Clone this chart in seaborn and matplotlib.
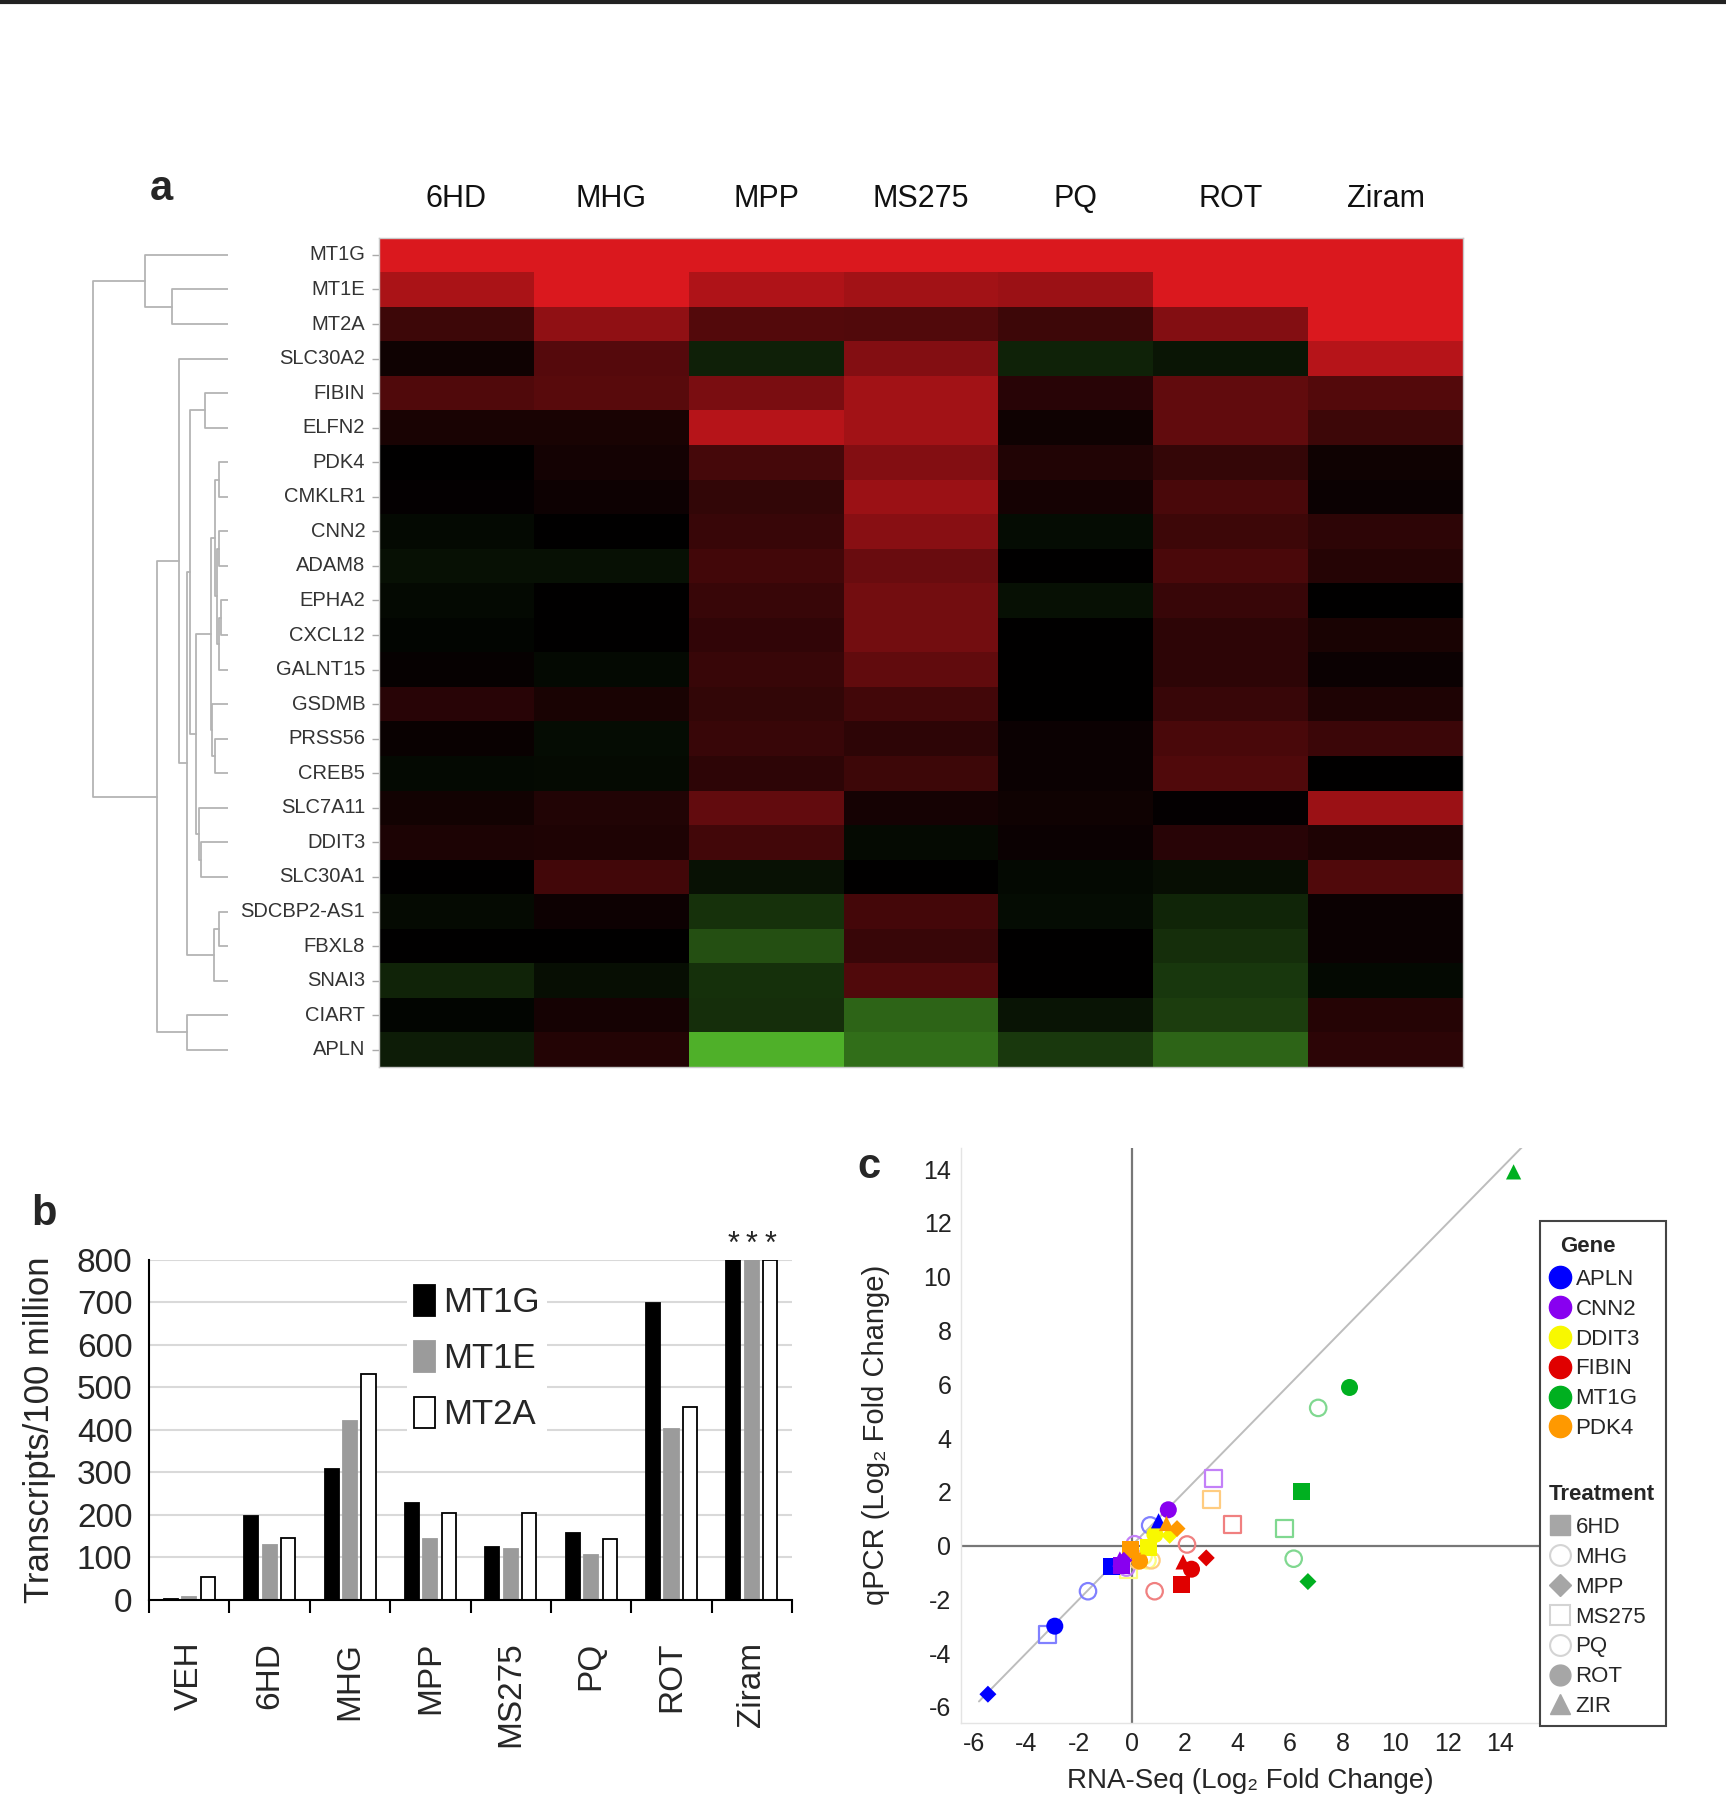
import numpy as np
import pandas as pd
import matplotlib
matplotlib.use('Agg')
import matplotlib.pyplot as plt
from matplotlib.colors import LinearSegmentedColormap
from matplotlib.lines import Line2D
from matplotlib.patches import Patch
from matplotlib.transforms import IdentityTransform
import seaborn as sns

sns.set_theme(style='white')
plt.rcParams['font.family'] = ['Liberation Sans', 'DejaVu Sans']
plt.rcParams['axes.unicode_minus'] = False

# ---------------- data: panel a (heatmap, signed colour level -1..1) ----------------
hm_genes = ['MT1G', 'MT1E', 'MT2A', 'SLC30A2', 'FIBIN', 'ELFN2', 'PDK4', 'CMKLR1',
            'CNN2', 'ADAM8', 'EPHA2', 'CXCL12', 'GALNT15', 'GSDMB', 'PRSS56', 'CREB5',
            'SLC7A11', 'DDIT3', 'SLC30A1', 'SDCBP2-AS1', 'FBXL8', 'SNAI3', 'CIART', 'APLN']
hm_treat = ['6HD', 'MHG', 'MPP', 'MS275', 'PQ', 'ROT', 'Ziram']
c_6hd = [1, .78, .28, .07, .36, .11, 0, .02, -.05, -.09, -.05, -.03, .03, .18, .04, -.05,
         .08, .13, 0, -.06, 0, -.20, -.03, -.16]
c_mhg = [1, 1, .66, .39, .40, .11, .09, .06, 0, -.09, 0, 0, -.05, .11, -.07, -.06,
         .15, .14, .30, .06, 0, -.08, .10, .16]
c_mpp = [1, .80, .38, -.18, .56, .83, .32, .23, .25, .30, .25, .22, .25, .23, .25, .21,
         .45, .30, -.10, -.28, -.45, -.27, -.26, -1.0]
c_ms275 = [1, .74, .37, .60, .74, .74, .60, .71, .62, .48, .53, .53, .44, .30, .21, .28,
           .10, -.06, 0, .31, .25, .36, -.57, -.62]
c_pq = [1, .71, .28, -.19, .18, .07, .15, .10, -.07, 0, -.09, 0, 0, 0, .05, .05,
        .07, .05, -.05, -.07, 0, 0, -.11, -.32]
c_rot = [1, 1, .60, -.12, .44, .44, .24, .33, .28, .34, .25, .21, .21, .25, .33, .36,
         .02, .18, -.08, -.21, -.26, -.31, -.35, -.57]
c_ziram = [1, 1, 1, .83, .38, .28, .07, .05, .21, .17, 0, .11, .05, .14, .27, 0,
           .71, .14, .36, .05, .05, -.05, .17, .20]

# dendrogram: (height, left, right); leaves are row indices
dendro = (405,
          (248, 0, (167, 1, 2)),
          (212,
           (147, 3,
            (124,
             (113, (70, 4, 5),
              (97,
               (52,
                (40, (27, 6, 7), (32, (27, 8, 9), (26, (22, 10, 11), 12))),
                (47, 13, (40, 14, 15))),
               (88, 16, (80, 17, 18)))),
             (42, (28, 19, 20), 21))),
           (124, 22, 23)))

# ---------------- data: panel b ----------------
b_treat = ['VEH', '6HD', 'MHG', 'MPP', 'MS275', 'PQ', 'ROT', 'Ziram']
b_mt1g = [2, 197, 307, 229, 124, 158, 698, 800]   # Ziram off scale (***)
b_mt1e = [8, 130, 421, 143, 121, 106, 402, 800]
b_mt2a = [55, 147, 532, 205, 205, 143, 453, 800]

# ---------------- data: panel c (RNA-Seq vs qPCR log2 FC) ----------------
c_treat = ['6HD', 'MHG', 'MPP', 'MS275', 'PQ', 'ROT', 'ZIR']
c_genes = ['APLN', 'CNN2', 'DDIT3', 'FIBIN', 'MT1G', 'PDK4']
apln_rna = [-0.75, 0.70, -5.46, -3.20, -1.66, -2.92, 1.02]
apln_qpcr = [-0.78, 0.75, -5.53, -3.32, -1.70, -3.00, 0.92]
cnn2_rna = [-0.39, 0.11, -0.30, 3.09, -0.20, 1.39, -0.45]
cnn2_qpcr = [-0.73, 0.05, -0.55, 2.49, -0.82, 1.33, -0.50]
ddit3_rna = [0.62, 0.60, 1.44, -0.14, 0.45, 0.88, 0.62]
ddit3_qpcr = [-0.09, -0.55, 0.38, -0.88, -0.40, 0.41, -0.05]
fibin_rna = [1.89, 2.10, 2.83, 3.81, 0.87, 2.27, 1.95]
fibin_qpcr = [-1.44, 0.04, -0.46, 0.79, -1.70, -0.88, -0.61]
mt1g_rna = [6.46, 7.08, 6.69, 5.81, 6.15, 8.27, 14.50]
mt1g_qpcr = [2.00, 5.12, -1.34, 0.63, -0.49, 5.88, 13.90]
pdk4_rna = [-0.05, 0.75, 1.72, 3.03, 0.20, 0.30, 1.32]
pdk4_qpcr = [-0.14, -0.55, 0.63, 1.71, -0.55, -0.58, 0.82]

gene_colors = {'APLN': '#0000ff', 'CNN2': '#8800f0', 'DDIT3': '#f8f800',
               'FIBIN': '#e00000', 'MT1G': '#00b020', 'PDK4': '#ff9900'}

# ---------------- figure ----------------
fig = plt.figure(figsize=(17.26, 18.0), dpi=100)
fig.add_artist(Line2D([0, 1], [0.999, 0.999], color='#222222', lw=3, transform=fig.transFigure))

# ===== panel a =====
hm = pd.DataFrame({'6HD': c_6hd, 'MHG': c_mhg, 'MPP': c_mpp, 'MS275': c_ms275,
                   'PQ': c_pq, 'ROT': c_rot, 'Ziram': c_ziram}, index=hm_genes)[hm_treat]
cmap = LinearSegmentedColormap.from_list('gkr', [(0.31, 0.69, 0.16), (0, 0, 0), (0.855, 0.094, 0.118)])

ax_hm = fig.add_axes([0.2196, 0.4072, 0.628, 0.4608])
sns.heatmap(hm, cmap=cmap, vmin=-1, vmax=1, cbar=False, ax=ax_hm, linewidths=0)
ax_hm.xaxis.tick_top()
ax_hm.set_xticklabels(hm_treat, fontsize=22, color='#111111')
ax_hm.tick_params(axis='x', length=0, pad=17)
ax_hm.set_yticklabels(hm_genes, rotation=0, fontsize=14.5, color='#333333')
ax_hm.tick_params(axis='y', length=5, color='#aaaaaa', width=1, pad=5, left=True)
ax_hm.set_xlabel('')
ax_hm.set_ylabel('')
for sp in ax_hm.spines.values():
    sp.set_visible(True)
    sp.set_color('#c8c8c8')
    sp.set_linewidth(1)

ax_dn = fig.add_axes([0.0533, 0.4072, 0.0788, 0.4608])


def draw_tree(ax, node):
    if isinstance(node, int):
        return node + 0.5, 0.0
    h, left, right = node
    y1, h1 = draw_tree(ax, left)
    y2, h2 = draw_tree(ax, right)
    ax.plot([h1, h, h, h2], [y1, y1, y2, y2], color='#b4b4b4', lw=1.3)
    return (y1 + y2) / 2, h


draw_tree(ax_dn, dendro)
ax_dn.set_xlim(408, 0)
ax_dn.set_ylim(len(hm_genes), 0)
ax_dn.axis('off')

fig.text(161 / 1726, 1 - 189 / 1800, 'a', fontsize=30, fontweight='bold', ha='center', va='center')

# ===== panel b =====
df_b = pd.DataFrame({'treatment': b_treat * 3,
                     'value': b_mt1g + b_mt1e + b_mt2a,
                     'gene': ['MT1G'] * 8 + ['MT1E'] * 8 + ['MT2A'] * 8})
bar_colors = {'MT1G': '#000000', 'MT1E': '#9b9b9b', 'MT2A': '#ffffff'}
bar_edges = {'MT1G': '#000000', 'MT1E': '#9b9b9b', 'MT2A': '#000000'}

ax_b = fig.add_axes([0.0864, 0.1111, 0.3725, 0.189])
ax_b.set_axisbelow(True)
ax_b.yaxis.grid(True, color='#d9d9d9', lw=1.5)
sns.barplot(data=df_b, x='treatment', y='value', hue='gene', palette=bar_colors,
            width=0.69, ax=ax_b, legend=False, saturation=1)
for cont, g in zip(ax_b.containers, ['MT1G', 'MT1E', 'MT2A']):
    for bar in cont:
        cx = bar.get_x() + bar.get_width() / 2
        bar.set_width(0.175)
        bar.set_x(cx - 0.0875)
        bar.set_edgecolor(bar_edges[g])
        bar.set_linewidth(1.3)
# asterisks over the off-scale Ziram bars
for cont in ax_b.containers:
    bar = cont[-1]
    ax_b.text(bar.get_x() + bar.get_width() / 2, 800, '*', ha='center', va='bottom',
              fontsize=22, clip_on=False)

ax_b.set_xlim(-0.5, 7.5)
ax_b.set_ylim(0, 800)
ax_b.set_yticks(range(0, 801, 100))
ax_b.set_yticklabels([str(v) for v in range(0, 801, 100)], fontsize=24)
ax_b.set_xticks(range(8))
ax_b.set_xticklabels(b_treat, rotation=90, fontsize=24, va='top', ha='center')
ax_b.set_xticks(np.arange(-0.5, 8, 1), minor=True)
ax_b.tick_params(axis='x', which='major', length=0, pad=30)
ax_b.tick_params(axis='x', which='minor', length=9, width=1.5, color='black', bottom=True)
ax_b.tick_params(axis='y', length=0, pad=12)
ax_b.set_xlabel('')
ax_b.set_ylabel('Transcripts/100 million', fontsize=25, labelpad=15)
for s in ['top', 'right']:
    ax_b.spines[s].set_visible(False)
for s in ['left', 'bottom']:
    ax_b.spines[s].set_color('black')
    ax_b.spines[s].set_linewidth(1.5)

leg_b = ax_b.legend(handles=[Patch(facecolor=bar_colors[g], edgecolor=bar_edges[g], lw=1.3)
                             for g in ['MT1G', 'MT1E', 'MT2A']],
                    labels=['MT1G', 'MT1E', 'MT2A'], loc='upper left',
                    bbox_to_anchor=(0.374, 0.998), fontsize=25, frameon=True, framealpha=1,
                    edgecolor='none', facecolor='white', handlelength=0.6, handleheight=1.0,
                    handletextpad=0.25, labelspacing=0.62, borderpad=0.2, fancybox=False)

fig.text(44 / 1726, 1 - 1214 / 1800, 'b', fontsize=30, fontweight='bold', ha='center', va='center')

# ===== panel c =====
rna = {'APLN': apln_rna, 'CNN2': cnn2_rna, 'DDIT3': ddit3_rna,
       'FIBIN': fibin_rna, 'MT1G': mt1g_rna, 'PDK4': pdk4_rna}
qpcr = {'APLN': apln_qpcr, 'CNN2': cnn2_qpcr, 'DDIT3': ddit3_qpcr,
        'FIBIN': fibin_qpcr, 'MT1G': mt1g_qpcr, 'PDK4': pdk4_qpcr}
rows = []
for g in c_genes:
    for t, xv, yv in zip(c_treat, rna[g], qpcr[g]):
        rows.append((g, t, xv, yv))
df_c = pd.DataFrame(rows, columns=['gene', 'treatment', 'rnaseq', 'qpcr'])

treat_marker = {'6HD': 's', 'MHG': 'o', 'MPP': 'D', 'MS275': 's', 'PQ': 'o', 'ROT': 'o', 'ZIR': '^'}
treat_size = {'6HD': 150, 'MHG': 140, 'MPP': 75, 'MS275': 150, 'PQ': 140, 'ROT': 150, 'ZIR': 120}
open_treat = ['MHG', 'MS275', 'PQ']

ax_c = fig.add_axes([0.5565, 0.0428, 0.3357, 0.3196])
ax_c.axhline(0, color='#777777', lw=1.6, zorder=1)
ax_c.axvline(0, color='#777777', lw=1.6, zorder=1)
ax_c.plot([-5.8, 16], [-5.8, 16], color='#bdbdbd', lw=1.4, zorder=1)

for t in ['MS275', 'MHG', 'PQ', '6HD', 'ROT', 'MPP', 'ZIR']:
    sub = df_c[df_c['treatment'] == t]
    sns.scatterplot(data=sub, x='rnaseq', y='qpcr', hue='gene', palette=gene_colors,
                    marker=treat_marker[t], s=treat_size[t], ax=ax_c, legend=False,
                    linewidth=0, zorder=3)
    coll = ax_c.collections[-1]
    if t in open_treat:
        fc = coll.get_facecolors()
        ec = fc.copy()
        ec[:, :3] = fc[:, :3] * 0.5 + 0.5
        coll.set_facecolors('none')
        coll.set_edgecolors(ec)
        coll.set_linewidths(1.6)

ax_c.set_xlim(-6.5, 15.5)
ax_c.set_ylim(-6.6, 14.8)
ax_c.set_xticks(range(-6, 15, 2))
ax_c.set_yticks(range(-6, 15, 2))
ax_c.tick_params(labelsize=18, labelcolor='#222222', length=3, color='#dddddd')
ax_c.set_xlabel('RNA-Seq (Log\u2082 Fold Change)', fontsize=20, labelpad=9)
ax_c.set_ylabel('qPCR (Log\u2082 Fold Change)', fontsize=21, labelpad=24)
for s in ['top', 'right']:
    ax_c.spines[s].set_visible(False)
for s in ['left', 'bottom']:
    ax_c.spines[s].set_color('#e4e4e4')
    ax_c.spines[s].set_linewidth(1)

# legend for panel c: header rows are blank entries, titles placed afterwards
handles = [Line2D([], [], ls='')]
labels = [' ']
for g in c_genes:
    handles.append(Line2D([], [], ls='', marker='o', ms=16, mfc=gene_colors[g], mec=gene_colors[g]))
    labels.append(g)
handles += [Line2D([], [], ls=''), Line2D([], [], ls='')]
labels += [' ', ' ']
legend_gray = '#a6a6a6'
legend_light = '#d4d4d4'
for t in c_treat:
    m = treat_marker[t]
    ms = 11 if m == 'D' else 15
    if t in open_treat:
        handles.append(Line2D([], [], ls='', marker=m, ms=ms, mfc='white', mec=legend_light, mew=1.5))
    else:
        handles.append(Line2D([], [], ls='', marker=m, ms=ms, mfc=legend_gray, mec=legend_gray))
    labels.append(t)

leg_top = 1 - 1221 / 1800
leg_c = fig.legend(handles, labels, loc='upper left',
                   bbox_to_anchor=(1540 / 1726, leg_top - 0.2, 126 / 1726, 0.2), mode='expand',
                   bbox_transform=fig.transFigure, fontsize=16, frameon=True, fancybox=False,
                   edgecolor='#444444', framealpha=1, handlelength=1.0, handletextpad=0.2,
                   labelspacing=0.4, borderpad=0.4, borderaxespad=0)
leg_c.get_frame().set_linewidth(1.5)
texts = leg_c.get_texts()
texts[0].set_fontsize(22)
texts[8].set_fontsize(22)

fig.canvas.draw()
frame_bb = leg_c.get_frame().get_window_extent()
for idx, title, dx in [(0, 'Gene', 20), (8, 'Treatment', 9)]:
    bb = texts[idx].get_window_extent()
    fig.text(frame_bb.x0 + dx, (bb.y0 + bb.y1) / 2 - 2, title, transform=IdentityTransform(),
             fontsize=16, fontweight='bold', ha='left', va='center', zorder=20)

fig.text(869 / 1726, 1 - 1167 / 1800, 'c', fontsize=30, fontweight='bold', ha='center', va='center')

fig.savefig('out.png', dpi=100, facecolor='white')
